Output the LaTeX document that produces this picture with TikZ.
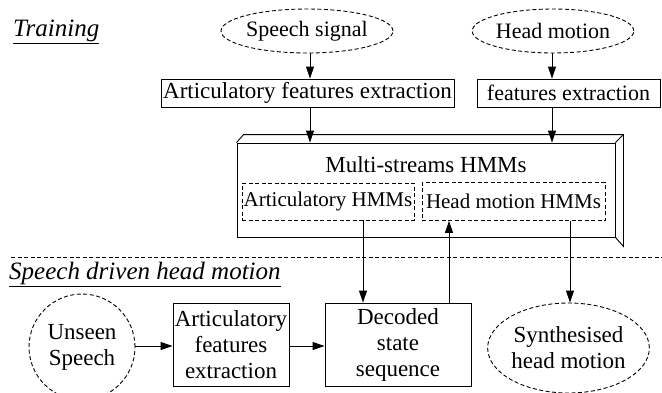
\documentclass[tikz,border=0pt]{standalone}
\usepackage{fontspec}
\setmainfont{Liberation Serif}
\usetikzlibrary{arrows.meta,shapes.geometric}
\begin{document}
\begin{tikzpicture}[x=1pt,y=-1pt,
  every node/.style={font=\fontsize{23}{26}\selectfont, inner sep=0pt, align=center},
  solidbox/.style={draw, line width=0.9pt, rectangle},
  dashbox/.style={draw, line width=0.9pt, rectangle, dash pattern=on 4pt off 2.5pt, font=\fontsize{21}{24}\selectfont},
  dashell/.style={draw, line width=0.9pt, ellipse, dash pattern=on 4pt off 2.5pt},
  smalltext/.style={font=\fontsize{22}{25}\selectfont},
  heading/.style={font=\fontsize{25}{28}\selectfont\itshape, anchor=west},
  conn/.style={line width=0.9pt, -{Triangle[length=12pt,width=8pt]}}
]
\useasboundingbox (0,0) rectangle (662,392);
% Training part
\node[heading] (train) at (13,32) {\underline{Training}};
\node[dashell, smalltext, minimum width=156pt, minimum height=44pt] (speech) at (307,31) {Speech signal};
\node[dashell, smalltext, minimum width=150pt, minimum height=44pt] (hm) at (553,31) {Head motion};
\node[solidbox, minimum width=293pt, minimum height=28pt] (afe) at (307.5,93) {Articulatory features extraction};
\node[solidbox, smalltext, minimum width=183pt, minimum height=28pt] (fe) at (568.5,93) {features extraction};
% 3D box
\node[solidbox, minimum width=378pt, minimum height=94pt] (hmm) at (426,190) {};
\draw[line width=0.9pt] (hmm.north west) -- ++(7,-8) -- ([xshift=8pt,yshift=8pt]hmm.north east) -- ([xshift=8pt,yshift=-9pt]hmm.south east) -- (hmm.south east);
\draw[line width=0.9pt] (hmm.north east) -- ++(8,-8);
\node (mstitle) at (426,165) {Multi-streams HMMs};
\node[dashbox, minimum width=172pt, minimum height=37pt] (artH) at (328,201.5) {Articulatory HMMs};
\node[dashbox, minimum width=183pt, minimum height=38pt] (headH) at (513.5,201.5) {Head motion HMMs};
% connectors training
\coordinate (xa) at (310,0);
\draw[conn] (speech.south -| xa) -- (afe.north -| xa);
\draw[conn] (afe.south -| xa) -- (hmm.north -| xa);
\coordinate (xh) at (552,0);
\draw[conn] (hm.south -| xh) -- (fe.north -| xh);
\draw[conn] (fe.south -| xh) -- (hmm.north -| xh);
% separator
\coordinate (sepL) at (11,257);
\coordinate (sepR) at (662,257);
\draw[line width=0.9pt, dash pattern=on 4pt off 2.5pt] (sepL) -- (sepR);
% Synthesis part
\node[heading] (sdhm) at (9,274) {\underline{Speech driven head motion}};
\node[draw, circle, line width=0.9pt, dash pattern=on 4pt off 2.5pt, minimum size=106pt] (unseen) at (82,347) {Unseen\\Speech};
\node[solidbox, minimum width=116pt, minimum height=83pt] (artic) at (231,344.5) {Articulatory\\features\\extraction};
\node[solidbox, minimum width=146pt, minimum height=83pt] (decoded) at (398,344.5) {Decoded\\state\\sequence};
\node[dashell, minimum width=157pt, minimum height=90pt] (synth) at (568.5,348) {Synthesised\\head motion};
\coordinate (yb) at (0,346);
\draw[conn] (unseen.east |- yb) -- (artic.west |- yb);
\draw[conn] (artic.east |- yb) -- (decoded.west |- yb);
\coordinate (x1) at (363,0);
\coordinate (x2) at (449,0);
\coordinate (x3) at (570,0);
\draw[conn] (artH.south -| x1) -- (decoded.north -| x1);
\draw[conn] (decoded.north -| x2) -- (headH.south -| x2);
\draw[conn] (headH.south -| x3) -- (synth.north -| x3);
\end{tikzpicture}
\end{document}
